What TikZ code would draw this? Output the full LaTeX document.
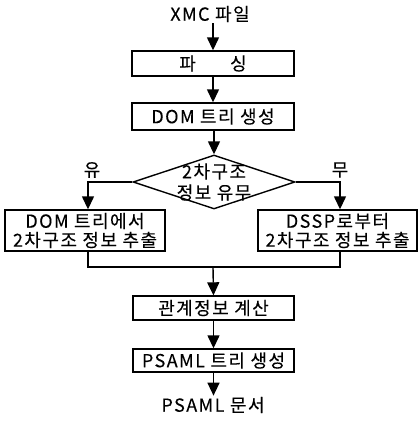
\documentclass[tikz,border=0pt]{standalone}
\usepackage{fontspec}
\setmainfont{Noto Sans CJK KR}[LetterSpace=8,FakeBold=0.15]
\usetikzlibrary{arrows.meta,shapes.geometric,calc}
\begin{document}
\begin{tikzpicture}[x=1pt,y=-1pt,
  every node/.style={font=\fontsize{18}{19}\selectfont},
  stepbox/.style={draw,line width=1.4pt,rectangle,inner sep=0pt,align=center},
  link/.style={line width=1.4pt},
  arr/.style={link,-{Triangle[length=13pt,width=12pt]}},
  tag/.style={inner sep=1pt}]
\useasboundingbox (0,0) rectangle (418,424);

\node[tag] (src) at (210,14) {XMC 파일};
\node[stepbox,minimum width=162pt,minimum height=25pt] (parse) at (213,63.5) {파\hspace{1.9em}싱};
\node[stepbox,minimum width=162pt,minimum height=27pt] (dom) at (213,116.5) {DOM 트리 생성};

\node[draw,line width=1.4pt,diamond,inner sep=0pt,minimum width=162pt,minimum height=54pt] (dec) at (214,182) {};
\node[align=center,inner sep=0pt,font=\fontsize{18}{21}\selectfont] (dectxt) at (dec.center) {2차구조\\정보 유무};

\node[stepbox,minimum width=160pt,minimum height=41pt] (lbox) at (85,230.5) {DOM 트리에서\\2차구조 정보 추출};
\node[stepbox,minimum width=159pt,minimum height=41pt] (rbox) at (337.5,230.5) {DSSP로부터\\2차구조 정보 추출};

\node[tag] (yes) at (92,170) {유};
\node[tag] (no) at (340,170) {무};

\node[stepbox,minimum width=161pt,minimum height=24pt] (calc) at (213.5,308) {관계정보 계산};
\node[stepbox,minimum width=161pt,minimum height=23pt] (tree) at (213.5,360.5) {PSAML 트리 생성};
\node[tag] (doc) at (213,405) {PSAML 문서};

\coordinate (join) at (213,267);

\draw[arr] (src.south -| parse.north) -- (parse.north);
\draw[arr] (parse.south) -- (dom.north);
\draw[arr] (dom.south -| dec.north) -- (dec.north);
\draw[arr] (dec.west) -| ([xshift=3pt]lbox.north);
\draw[arr] (dec.east) -| ([xshift=2.5pt]rbox.north);
\draw[link] ([xshift=3pt]lbox.south) |- (join) -| ([xshift=2.5pt]rbox.south);
\draw[arr] (join) -- (calc.north);
\draw[arr] (calc.south) -- (tree.north);
\draw[arr] (tree.south) -- (doc.north -| tree.south);
\end{tikzpicture}
\end{document}
